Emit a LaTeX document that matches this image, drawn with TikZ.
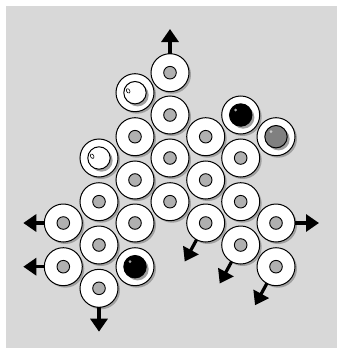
\documentclass[tikz,border=0pt]{standalone}
\usetikzlibrary{arrows.meta,calc}
\definecolor{bg}{HTML}{D8D8D8}
\definecolor{shade}{HTML}{A0A0A0}
\definecolor{holefill}{HTML}{B0B0B0}
\definecolor{ballgray}{HTML}{808080}
\tikzset{
  discshadow/.style={fill=shade, draw=none},
  discbody/.style={fill=white, draw=black, line width=1pt},
  holestyle/.style={fill=holefill, draw=black, line width=0.9pt},
  ballshadow/.style={fill=shade, draw=none},
  pusharrow/.style={line width=3.2pt, -{Triangle[length=13pt,width=17pt]}}
}
\newcommand{\disc}[3]{%
  \coordinate (#1) at (#2,#3);
  \fill[discshadow] ([shift={(2,2)}]#1) circle (19);
  \draw[discbody] (#1) circle (19);
}
\newcommand{\hole}[1]{%
  \draw[holestyle] (#1) circle (6.3);
}
\begin{document}
\begin{tikzpicture}[x=1pt,y=-1pt]
\useasboundingbox (0,0) rectangle (337,348);
\fill[bg] (6,6) rectangle (337,348);
% discs
\disc{d1}{170}{72.7}
\disc{d2}{135}{92.7}
\disc{d3}{170}{115}
\disc{d4}{240.7}{115}
\disc{d5}{135}{136.7}
\disc{d6}{205.7}{136.7}
\disc{d7}{276}{136.7}
\disc{d8}{99}{158}
\disc{d9}{170}{158}
\disc{d10}{240.7}{158}
\disc{d11}{135}{180}
\disc{d12}{205.7}{180}
\disc{d13}{99}{201.7}
\disc{d14}{170}{201.7}
\disc{d15}{240.7}{201.7}
\disc{d16}{63.3}{223}
\disc{d17}{135}{223}
\disc{d18}{205.7}{223}
\disc{d19}{276}{223}
\disc{d20}{99}{245}
\disc{d21}{240.7}{245}
\disc{d22}{63.3}{266.7}
\disc{d23}{135}{266.7}
\disc{d24}{276}{266.7}
\disc{d25}{99}{288.3}
% holes
\foreach \d in {d1,d3,d5,d6,d9,d10,d11,d12,d13,d14,d15,d16,d17,d18,d19,d20,d21,d22,d24,d25}{\hole{\d}}
% hollow white balls
\foreach \d in {d2,d8}{
  \fill[ballshadow] ([shift={(2.5,2.5)}]\d) circle (11.2);
  \draw[fill=white, line width=1pt] (\d) circle (11.2);
  \draw[line width=0.6pt, rotate around={30:([shift={(-5,-5)}]\d)}] ([shift={(-5,-5)}]\d) ellipse (1.6 and 2.4);
}
% black balls
\foreach \d in {d4,d23}{
  \fill[ballshadow] ([shift={(2.5,2.5)}]\d) circle (11.2);
  \draw[fill=black, line width=1pt] (\d) circle (11.2);
  \fill[gray!70] ([shift={(-5,-5)}]\d) circle (1.5);
}
% gray ball
\fill[ballshadow] ([shift={(2.5,2.5)}]d7) circle (11.2);
\draw[fill=ballgray, line width=1pt] (d7) circle (11.2);
\fill[gray!40] ([shift={(-5,-5)}]d7) circle (1.5);
% arrows
\coordinate (tU) at ([shift={(0,-43.7)}]d1);
\coordinate (tL1) at ([shift={(-40,0)}]d16);
\coordinate (tL2) at ([shift={(-40,0)}]d22);
\coordinate (tR) at ([shift={(43,0)}]d19);
\coordinate (tD) at ([shift={(0,43.4)}]d25);
\coordinate (tA) at ([shift={(-21,38.5)}]d18);
\coordinate (tB) at ([shift={(-21,38.5)}]d21);
\coordinate (tC) at ([shift={(-21,38.5)}]d24);
\draw[pusharrow] ([shift={(0,-19)}]d1) -- (tU);
\draw[pusharrow] ([shift={(-19,0)}]d16) -- (tL1);
\draw[pusharrow] ([shift={(-19,0)}]d22) -- (tL2);
\draw[pusharrow] ([shift={(19,0)}]d19) -- (tR);
\draw[pusharrow] ([shift={(0,19)}]d25) -- (tD);
\draw[pusharrow] ($(d18)!19pt!(tA)$) -- (tA);
\draw[pusharrow] ($(d21)!19pt!(tB)$) -- (tB);
\draw[pusharrow] ($(d24)!19pt!(tC)$) -- (tC);
\end{tikzpicture}
\end{document}
